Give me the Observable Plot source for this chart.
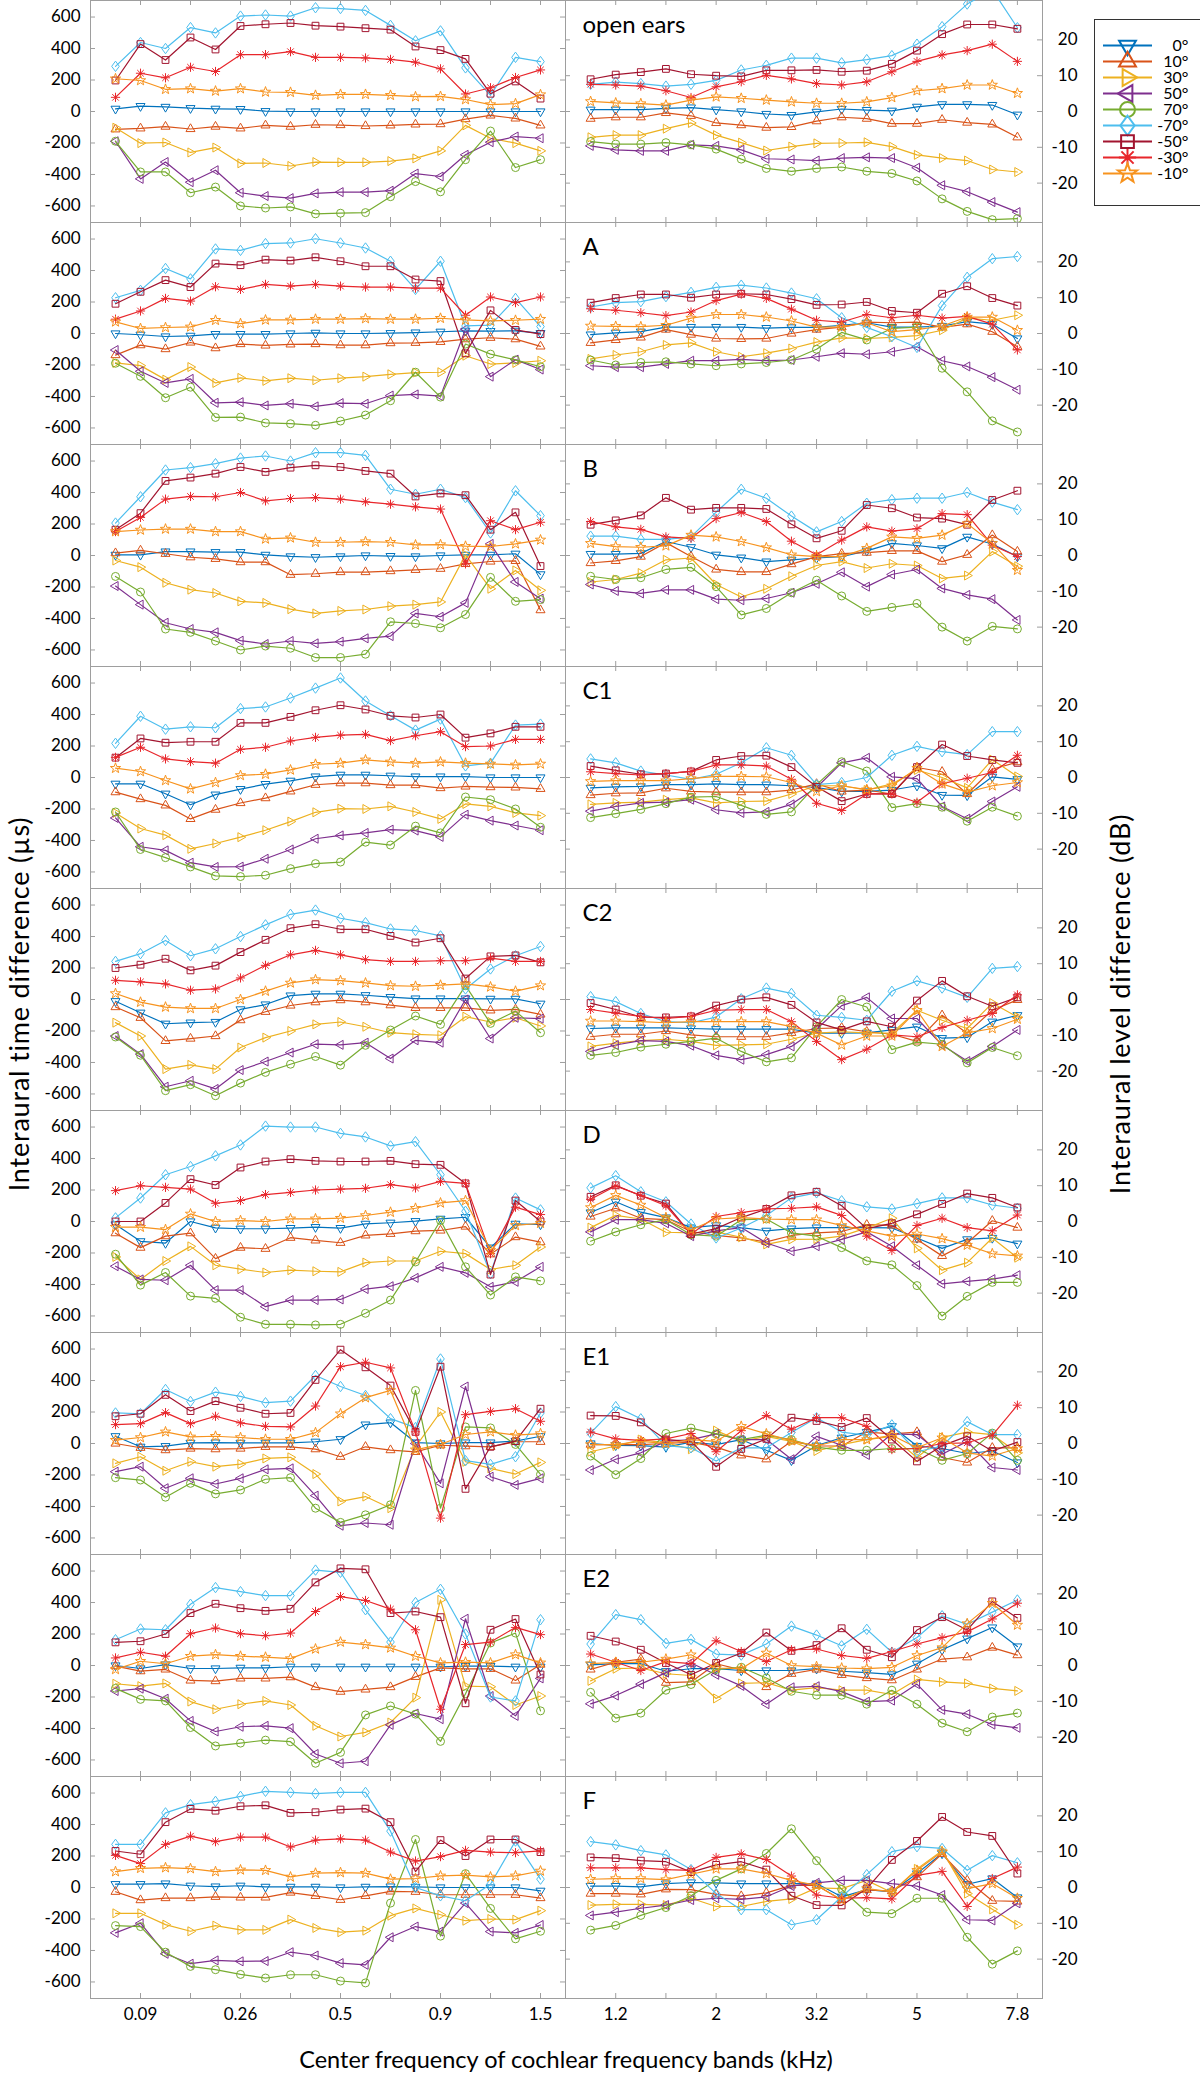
<!DOCTYPE html>
<html><head><meta charset="utf-8">
<script src="https://cdn.jsdelivr.net/npm/d3@7"></script>
<script src="https://cdn.jsdelivr.net/npm/@observablehq/plot@0.6"></script>
<style>
html,body{margin:0;padding:0;background:#fff;}
#fig{position:relative;width:1200px;height:2077px;font-family:Lato,"Open Sans",sans-serif;color:#000;overflow:hidden;}
#fig svg{position:absolute;overflow:visible;}
.ytitle{position:absolute;font-size:27px;letter-spacing:0.8px;line-height:1;white-space:nowrap;transform:translate(-50%,-50%) rotate(-90deg);}
.xtitle{position:absolute;font-size:23.5px;line-height:1;white-space:nowrap;transform:translate(-50%,-50%);}
</style></head><body><div id="fig"></div>
<script>
// ---------- categories ----------
const panels = ["open ears","A","B","C1","C2","D","E1","E2","F"];
const angles = ["0°","10°","30°","50°","70°","-70°","-50°","-30°","-10°"];
const angleColors = ["#0072BD","#D95319","#EDB120","#7E2F8E","#77AC30","#4DBEEE","#A2142F","#E8262B","#F7931E"];
const bands = [1,2,3,4,5,6,7,8,9,10,11,12,13,14,15,16,17,18];
const tickBands = [2,4,6,8,10,12,14,16,18];
const labelBands = [2,6,10,14,18];
const itdTickLabels = ["0.09","0.26","0.5","0.9","1.5"];
const ildTickLabels = ["1.2","2","3.2","5","7.8"];
const itdTicks = [-600,-400,-200,0,200,400,600];
const ildTicks = [-20,-10,0,10,20];

// ---------- ITD (µs), series order = angles ----------
const itdOpen = [
[17,34,29,21,17,15,2,0,0,0,0,0,0,0,0,0,0,0],
[-113,-107,-96,-111,-96,-107,-88,-96,-84,-86,-92,-88,-82,-80,-48,-25,-44,-88],
[-103,-201,-197,-260,-229,-329,-327,-346,-321,-323,-323,-315,-298,-250,-88,-170,-201,-250],
[-189,-428,-321,-449,-373,-516,-537,-550,-520,-512,-512,-503,-394,-413,-275,-195,-159,-170],
[-189,-384,-384,-516,-480,-600,-613,-606,-650,-646,-642,-541,-445,-510,-306,-124,-356,-306],
[287,438,400,533,499,606,613,606,659,654,642,547,449,512,277,103,344,317],
[197,428,327,470,394,543,554,562,545,539,529,520,413,390,334,113,191,82],
[90,243,214,281,254,361,361,380,344,344,340,331,313,271,111,151,216,264],
[208,197,141,145,130,145,124,122,103,109,109,103,94,96,76,44,50,107]];
const itdA = [
[0,-8,-19,-15,-4,-4,-4,0,4,0,0,2,6,11,17,15,17,2],
[-137,-74,-99,-57,-93,-67,-76,-69,-67,-74,-74,-61,-59,-53,-36,-27,-36,-82],
[-187,-204,-293,-213,-314,-282,-301,-284,-297,-284,-274,-259,-248,-246,-141,-194,-187,-173],
[-105,-240,-314,-288,-440,-436,-457,-446,-463,-442,-446,-394,-387,-398,27,-274,-166,-229],
[-189,-272,-408,-341,-533,-531,-568,-573,-583,-556,-518,-427,-246,-404,-67,-131,-168,-211],
[227,274,413,347,537,528,571,575,602,575,543,459,280,459,48,53,223,44],
[189,265,339,295,444,434,469,463,484,459,427,427,343,333,-126,147,23,-4],
[91,143,223,206,297,280,312,301,312,301,295,295,288,288,116,232,196,232],
[74,32,38,42,84,63,86,86,91,91,95,91,91,97,86,80,84,91]];
const itdB = [
[4,4,25,25,21,21,4,-6,-11,-6,0,-4,-6,0,4,4,11,-120],
[15,32,11,-11,-21,-42,-42,-122,-116,-105,-105,-99,-91,-84,-53,-38,-34,-347],
[-32,-74,-173,-217,-238,-291,-301,-341,-368,-352,-343,-322,-312,-295,4,-211,-95,-221],
[-194,-312,-427,-467,-488,-541,-562,-543,-558,-547,-526,-512,-368,-389,-301,74,-168,-274],
[-133,-232,-467,-488,-543,-600,-575,-589,-648,-648,-627,-421,-432,-459,-375,-139,-291,-280],
[206,373,543,558,583,619,632,600,653,653,636,421,389,421,368,143,411,253],
[164,269,474,495,520,562,531,558,573,562,537,520,375,394,383,164,274,-67],
[152,242,358,375,373,400,347,362,368,358,341,326,309,295,-53,221,164,211],
[152,162,168,168,152,152,105,112,84,84,88,84,67,69,59,57,74,99]];
const itdC1 = [
[-40,-40,-103,-173,-109,-74,-42,-21,6,17,17,11,6,6,6,0,0,0],
[-93,-137,-177,-263,-204,-162,-131,-88,-46,-36,-36,-48,-48,-67,-57,-61,-63,-72],
[-225,-324,-366,-453,-419,-379,-335,-280,-221,-198,-200,-183,-219,-263,-168,-183,-225,-242],
[-257,-440,-463,-541,-568,-566,-516,-457,-389,-368,-352,-331,-337,-377,-236,-274,-305,-335],
[-219,-457,-509,-568,-625,-629,-621,-579,-547,-537,-411,-429,-309,-352,-124,-141,-200,-316],
[217,389,307,322,316,438,448,505,568,632,486,392,301,371,74,91,333,339],
[126,248,221,227,227,347,347,385,427,459,432,392,381,400,253,280,322,322],
[128,192,118,101,91,179,192,232,255,269,274,234,265,291,196,200,242,242],
[59,38,-19,-72,-32,13,21,48,84,91,112,99,91,99,91,86,80,86]];
const itdC2 = [
[-11,-84,-154,-147,-143,-63,-32,25,36,36,27,15,6,6,6,4,4,-27],
[-48,-116,-263,-248,-232,-131,-78,-38,-17,-4,-17,-36,-53,-53,-53,-69,-63,-95],
[-147,-232,-442,-415,-442,-305,-242,-200,-158,-143,-173,-211,-221,-227,-109,-143,-116,-168],
[-232,-347,-554,-516,-568,-448,-394,-337,-284,-288,-274,-375,-259,-274,0,-248,-116,-122],
[-238,-354,-579,-541,-611,-531,-463,-411,-362,-417,-291,-194,-105,-158,88,-152,-74,-211],
[242,291,375,278,322,400,474,541,568,516,488,448,438,404,67,194,278,337],
[200,221,259,185,215,301,379,453,478,446,446,404,362,389,133,274,280,236],
[122,112,99,59,67,137,217,284,312,284,253,242,242,246,246,263,242,242],
[38,-17,-48,-57,-57,0,53,105,126,120,105,88,84,91,99,80,53,88]];
const itdD = [
[-19,-126,-137,0,-40,-46,-46,-42,-36,-42,-15,-8,2,17,27,-166,-15,-19],
[-74,-166,-93,-74,-236,-166,-173,-103,-120,-135,-88,-78,-61,-57,-32,-208,-99,-131],
[-225,-368,-251,-158,-278,-303,-324,-309,-316,-320,-261,-251,-251,-189,-204,-305,-278,-162],
[-284,-368,-373,-278,-436,-436,-541,-499,-499,-495,-429,-411,-358,-288,-326,-415,-383,-288],
[-208,-404,-324,-474,-488,-608,-653,-653,-657,-653,-583,-499,-257,6,-288,-467,-352,-377],
[23,149,297,349,417,486,606,600,600,560,537,480,507,297,65,-331,149,74],
[0,0,118,269,232,343,381,396,385,381,381,385,364,360,242,-337,133,0],
[196,227,217,206,116,133,171,185,200,206,211,234,213,255,242,-204,91,44],
[-36,-36,-51,48,0,6,0,17,17,21,38,59,84,118,133,-183,-25,-11]];
const itdE1 = [
[46,-21,-17,4,6,4,4,4,11,27,120,133,6,0,6,6,15,46],
[0,-27,-42,-32,-36,-32,-21,-21,-36,-84,-21,-42,-53,-11,-17,-21,11,11],
[-126,-84,-173,-116,-147,-131,-95,-88,-194,-368,-337,-411,-21,200,-116,-158,-194,-120],
[-179,-147,-284,-221,-257,-221,-164,-158,-331,-522,-505,-516,0,-253,362,-211,-263,-221],
[-217,-232,-341,-253,-320,-295,-227,-217,-411,-501,-453,-389,337,-411,105,99,-6,-196],
[194,189,343,267,326,299,259,269,432,362,305,158,101,537,-109,-133,-84,194],
[173,189,309,206,269,227,189,194,404,596,484,368,74,488,-288,-21,15,221],
[120,126,196,126,173,131,109,105,238,488,516,480,74,-474,183,204,221,141],
[21,38,74,42,46,38,27,27,69,189,291,337,-40,-6,57,74,53,63]];
const itdE2 = [
[0,-19,6,-19,-19,-15,-15,-8,-8,-8,-8,-8,-8,-8,-4,-4,-8,-8],
[-4,-36,-25,-95,-99,-82,-82,-74,-137,-166,-152,-137,-72,-15,-21,-21,-95,6],
[-116,-131,-114,-229,-278,-246,-225,-251,-383,-451,-425,-362,-204,417,-131,-135,-251,-194],
[-162,-147,-211,-352,-419,-389,-383,-398,-562,-621,-608,-377,-305,-341,297,-194,-320,-82],
[-145,-215,-225,-394,-511,-493,-474,-484,-621,-552,-314,-257,-309,-482,-179,143,206,-288],
[164,232,227,389,495,469,444,444,606,592,354,149,400,484,200,-200,-225,291],
[147,154,200,333,392,364,347,360,528,617,611,333,343,307,-240,227,295,-57],
[48,84,59,202,238,202,189,206,343,438,413,358,227,-278,133,149,242,196],
[-25,27,11,59,69,59,53,44,105,149,133,112,59,17,21,17,69,17]];
const itdF = [
[21,21,25,11,6,11,4,4,4,0,4,6,4,0,0,0,0,-21],
[-27,-80,-67,-67,-59,-63,-63,-32,-53,-78,-53,-25,-27,-46,-46,-46,-46,-67],
[-164,-164,-236,-278,-242,-269,-269,-204,-257,-284,-274,-179,-133,-173,-211,-200,-204,-147],
[-288,-227,-421,-484,-463,-469,-467,-411,-432,-480,-491,-316,-248,-280,-99,-280,-288,-238],
[-242,-248,-411,-501,-522,-552,-575,-554,-554,-594,-606,-99,305,-309,88,-133,-326,-278],
[274,274,474,526,547,579,611,604,596,604,604,358,0,-53,-84,21,295,53],
[232,211,415,499,488,516,522,474,478,495,501,415,101,301,200,305,305,225],
[204,152,274,326,291,320,320,257,301,309,301,225,168,196,236,225,221,232],
[101,122,126,120,101,112,109,67,91,95,91,53,57,74,78,67,74,105]];

// ---------- ILD (dB), series order = angles ----------
const ildOpen = [
[0.5,0.5,0.5,0.9,1.1,0.5,0,-0.7,-1.0,-0.1,0.7,0.4,0.2,1.3,2.0,2.0,1.8,-0.9],
[-2.0,-1.6,-1.6,-0.4,-1.2,-3.2,-3.8,-4.5,-4.3,-2.7,-1.6,-2.0,-3.4,-3.4,-2.3,-3.1,-3.6,-7.2],
[-7.2,-6.6,-6.6,-4.8,-3.2,-6.6,-8.7,-10.9,-9.8,-8.9,-8.8,-8.6,-9.8,-12.1,-13.0,-13.7,-16.2,-16.9],
[-9.6,-10.7,-11.0,-11.0,-9.3,-9.6,-10.7,-13.2,-13.4,-13.7,-13.0,-12.8,-13.0,-15.7,-20.6,-22.4,-25.3,-28.1],
[-8.4,-9.1,-9.1,-8.7,-9.3,-10.5,-13.3,-15.9,-16.7,-15.9,-15.5,-16.7,-17.3,-19.4,-24.4,-27.9,-30.2,-29.9],
[7.6,8.2,7.8,7.1,7.6,8.7,11.6,12.9,14.9,14.9,13.6,14.5,15.6,18.8,23.7,30.0,34,23.4],
[9.0,10.3,11.0,11.9,10.4,10.0,9.8,11.5,11.5,11.6,11.1,11.4,13.3,17.0,21.6,24.3,24.3,23.1],
[7.6,7.4,7.1,5.8,3.9,6.9,8.3,10.1,9.1,7.8,7.4,8.3,11.1,14.0,15.8,17.0,18.8,14.0],
[2.8,2.4,2.2,1.8,3.2,4.1,3.7,3.2,2.7,2.3,2.3,2.7,3.9,5.8,6.4,7.4,7.4,5.1]];
const ildA = [
[-0.3,0.2,0.5,1.8,1.8,1.8,1.8,1.5,1.7,1.7,2.3,3.0,1.8,1.8,2.1,3.3,2.6,-1.4],
[-2.6,-1.8,-1.1,1.1,-0.3,-1.4,-1.5,-1.4,0,1.1,1.8,3.2,3.0,3.2,1.7,2.6,0.5,-3.7],
[-7.1,-6.0,-5.1,-3.2,-2.6,-5.1,-6.5,-5.5,-4.2,-2.4,-1.2,-1.4,-1.1,-0.6,0.9,4.3,3.7,5.1],
[-9.0,-9.4,-9.4,-8.5,-7.6,-7.6,-7.2,-7.6,-7.4,-6.5,-5.5,-5.8,-5.1,-3.7,-7.6,-9.2,-12.2,-15.7],
[-7.4,-8.8,-8.1,-7.9,-8.5,-9.0,-8.5,-8.1,-7.4,-4.4,0.3,-1.8,1.4,1.8,-9.7,-16.3,-24.4,-27.5],
[7.4,8.6,8.9,10.3,11.5,12.9,13.5,12.7,11.3,9.7,4.4,1.7,-0.9,-3.9,7.8,15.7,20.9,21.5],
[8.6,9.9,10.9,10.9,10.0,10.9,11.1,10.9,9.6,8.0,8.1,8.8,6.3,5.8,11.1,13.2,9.9,7.8],
[6.9,6.5,5.8,5.0,6.0,9.2,11.0,9.8,6.8,3.7,3.2,5.3,4.4,5.1,4.3,4.8,2.6,-4.6],
[2.1,2.0,1.9,2.3,4.3,5.3,5.3,4.6,3.5,1.8,1.8,3.0,0.5,1.1,2.1,4.6,4.6,0.9]];
const ildB = [
[0.4,0.4,0.6,3.9,2.3,0.2,-0.6,-1.7,-1.2,-0.7,-0.3,1.3,3.4,2.8,2.0,5.2,3.2,-0.3],
[-2.1,-1.5,-0.3,3.6,-0.3,-3.9,-4.6,-4.6,-2.4,-0.3,0.5,0.8,1.3,1.3,-1.7,0.2,5.7,1.1],
[-7.4,-6.7,-4.9,-1.2,-0.7,-8.1,-11.6,-9.3,-5.8,-2.8,-1.7,-3.5,-2.3,-2.8,-6.4,-5.6,1.1,-3.0],
[-8.1,-9.9,-10.6,-9.6,-9.6,-12.2,-12.5,-12.0,-10.4,-7.9,-4.7,-8.7,-5.3,-3.9,-9.2,-11.0,-12.2,-18.0],
[-5.8,-6.7,-6.2,-3.9,-3.3,-8.7,-16.6,-14.8,-10.4,-6.9,-11.3,-15.6,-14.5,-13.4,-20.0,-23.9,-19.8,-20.5],
[5.4,5.4,4.5,4.5,5.2,12.1,18.5,16.0,11.0,6.6,9.5,14.6,15.6,16.0,16.0,17.6,14.9,12.8],
[8.6,9.8,11.2,16.1,12.8,13.3,13.3,13.0,8.7,4.8,6.9,14.1,13.2,10.6,10.3,8.6,15.5,18.1],
[9.5,8.0,7.3,5.2,4.8,10.3,12.0,9.5,4.0,0.2,4.3,8.0,6.8,7.5,11.7,11.4,2.9,-0.3],
[3.4,2.5,2.3,2.7,5.7,5.2,3.9,2.2,0.2,-0.3,-0.3,2.0,5.2,4.8,5.7,8.9,3.4,-4.1]];
const ildC1 = [
[-2.9,-2.6,-2.5,-2.0,-2.0,-1.8,-2.0,-2.0,-2.3,-2.8,-3.9,-3.9,-3.5,-2.3,-4.9,-5.0,0.2,-0.5],
[-4.9,-4.4,-4.3,-3.0,-3.9,-4.1,-4.1,-4.1,-3.5,-1.8,-3.9,-3.5,-4.6,2.8,1.6,-4.6,2.3,4.3],
[-7.5,-7.1,-6.9,-6.2,-5.7,-7.1,-6.7,-6.6,-4.6,-2.3,-2.3,-3.5,-1.8,2.1,0,-2.9,5.0,0.3],
[-9.4,-8.1,-7.1,-6.9,-6.2,-9.0,-9.9,-9.6,-7.5,-2.8,4.1,5.5,0.2,-0.3,-8.1,-11.5,-6.7,-2.6],
[-11.2,-10.1,-8.9,-7.3,-5.5,-5.3,-7.8,-10.3,-9.6,-2.0,4.4,1.8,-8.4,-7.3,-8.3,-12.2,-8.3,-10.8],
[5.2,4.1,1.8,0.7,-0.5,0.9,4.1,8.3,6.2,-2.0,-1.4,0,6.2,8.7,7.2,6.4,12.8,12.8],
[3.2,2.0,0.9,1.1,1.7,4.9,6.0,6.1,2.9,-2.6,-6.6,-4.6,-4.6,2.9,9.2,6.0,4.9,4.1],
[1.6,1.1,0.7,1.1,1.7,3.5,3.5,3.2,-0.5,-7.2,-9.2,-4.6,-4.6,-6.9,-1.7,-0.2,1.4,6.2],
[-1.1,-0.9,-0.9,-0.9,-0.3,0.3,0.3,0.2,-1.4,-3.9,-2.3,-3.4,-2.3,2.6,-1.8,-4.1,-2.3,-1.4]];
const ildC2 = [
[-8.1,-7.9,-7.9,-7.9,-8.1,-8.3,-8.3,-8.3,-8.3,-9.4,-9.4,-9.3,-8.5,-7.6,-10.8,-10.6,-6.2,-4.4],
[-10.4,-9.7,-9.7,-8.8,-9.9,-10.4,-10.4,-10.4,-9.3,-8.1,-7.9,-9.0,-9.7,-11.7,-4.4,-9.4,-3.0,-0.1],
[-13.1,-12.2,-11.5,-11.1,-11.7,-12.8,-12.7,-12.5,-11.1,-9.4,-9.0,-9.3,-9.4,-3.0,-5.8,-8.1,-1.0,-4.9],
[-14.5,-12.7,-11.5,-11.7,-12.9,-15.6,-16.8,-15.4,-13.1,-8.3,-1.7,0.6,-5.3,-5.3,-12.7,-17.2,-13.1,-8.5],
[-15.6,-14.8,-13.3,-12.5,-11.7,-10.8,-14.5,-17.4,-16.3,-7.6,0,-2.1,-14.0,-11.9,-12.5,-17.7,-13.4,-15.7],
[0.8,-0.6,-3.9,-6.2,-6.5,-4.9,0.2,3.2,1.7,-4.4,-5.0,-5.8,2.3,5.2,3.2,0.6,8.7,9.2],
[-1.0,-2.8,-4.9,-5.0,-4.7,-1.7,0,0.6,-1.5,-6.4,-8.5,-6.1,-7.6,-0.3,5.2,0.9,-1.9,0.6],
[-2.8,-3.8,-4.7,-5.3,-4.7,-3.0,-2.8,-2.8,-6.2,-11.7,-16.8,-13.9,-9.9,-10.4,-7.8,-5.8,-3.9,1.3],
[-6.0,-6.0,-6.2,-6.5,-6.2,-6.2,-6.2,-6.2,-7.6,-9.4,-12.7,-10.2,-10.2,-3.0,-13.1,-9.3,-8.1,-5.5]];
const ildD = [
[2.5,5.5,2.6,1.1,-1.7,-1.1,-1.7,-2.6,-2.0,-1.7,-1.7,-1.7,-1.8,-4.6,-7.5,-5.0,-4.6,-6.2],
[1.4,3.7,0.9,0.5,-2.8,-3.9,-4.6,-5.7,-3.9,-3.2,-2.8,-0.9,-1.1,-5.0,-9.6,-6.0,0.2,-1.7],
[-1.7,1.7,0.7,-3.0,-3.2,-2.9,-4.4,-6.4,-5.0,-4.9,-4.1,-1.8,0.9,-7.5,-13.6,-11.5,-4.6,-10.1],
[-2.9,0.5,0.5,-0.5,-4.1,-2.6,-1.7,-6.0,-8.3,-6.9,-5.0,-2.9,-6.9,-12.2,-17.4,-16.7,-16.1,-15.0],
[-5.5,-2.9,-0.9,0.5,-3.7,-4.1,0.5,0.7,-3.2,-4.1,-7.3,-11.0,-12.1,-17.9,-26.4,-20.9,-17.0,-17.0],
[9.4,12.8,8.3,5.5,-0.7,-4.6,-1.8,1.7,6.6,8.0,5.8,4.1,3.5,5.0,6.6,6.6,4.6,3.7],
[6.9,10.1,7.2,5.0,-3.5,-2.0,1.1,3.5,7.3,8.3,4.4,-2.0,-0.5,2.0,4.9,7.8,6.6,3.9],
[6.2,9.9,7.3,4.4,-3.5,1.4,2.5,3.5,3.7,4.1,1.7,-4.1,-8.1,-1.1,0.9,-1.7,-2.6,1.8],
[3.9,7.3,4.6,1.1,-2.3,0.7,1.1,0.7,0.5,0.5,-1.1,-2.6,-4.1,-3.5,-4.8,-6.6,-9.0,-9.6]];
const ildE1 = [
[0,-0.5,-0.6,-1.0,0.4,-0.3,1.1,-1.9,-4.7,-0.6,1.6,3.2,4.8,-0.7,-1.4,-2.8,-2.1,-5.3],
[-0.3,-0.3,-0.3,0,0.4,-1.0,-3.3,-4.4,0.6,-0.7,-0.7,3.2,2.7,3.2,-3.9,-5.3,-1.2,-1.2],
[-2.3,-0.7,1.1,0.2,-1.6,3.6,0.6,2.0,0.6,-2.1,-0.3,1.1,2.0,-3.9,1.7,3.2,2.5,-2.6],
[-7.4,-4.4,-2.6,0.6,1.1,2.7,1.1,1.1,-4.4,2.0,-0.5,-3.2,2.7,2.5,-3.0,0.6,-6.7,-7.4],
[-3.5,-8.7,-4.2,2.8,4.3,2.7,1.1,2.3,1.1,-1.0,-1.9,-1.9,-1.4,-1.4,-4.7,-2.8,2.9,-4.7],
[2.9,10.3,6.9,-0.6,-1.2,-4.9,-1.2,-1.2,3.1,7.2,3.2,2.3,5.2,-2.3,-0.7,6.1,2.5,2.5],
[7.8,7.7,5.9,1.1,0.6,-6.5,-1.5,1.3,7.2,6.3,4.6,7.1,1.1,-5.0,-0.6,2.0,-2.1,0.4],
[3.2,1.3,0.9,1.3,2.8,-2.3,3.6,7.8,4.0,7.2,7.2,4.8,-1.7,-1.4,0,0.2,2.3,10.7],
[-0.3,-0.3,0.6,0,1.1,0.6,4.8,2.7,0.8,-0.7,1.1,1.1,2.3,-1.2,1.6,-2.6,-3.5,-1.4]];
const ildE2 = [
[0.2,0.5,0.5,-1.6,-0.9,-0.9,-1.4,-1.4,-1.4,-0.9,-1.6,-2.0,-2.5,0.5,4.4,7.5,10.6,5.3],
[-1.1,0.9,1.8,-4.8,-4.6,0.5,-1.2,-6.0,-2.3,-1.1,-2.6,-3.5,-4.1,-1.1,1.8,2.3,5.0,2.9],
[-4.3,-0.9,-0.7,-2.3,-2.8,-9.2,-5.0,-4.8,-6.9,-6.2,-6.9,-6.9,-8.1,-3.9,-4.6,-5.0,-6.4,-7.1],
[-10.7,-8.4,-5.2,-2.0,0.7,-2.6,-5.7,-10.8,-6.1,-5.8,-7.3,-10.1,-9.8,-5.2,-12.4,-13.6,-16.5,-17.4],
[-7.5,-14.7,-13.3,-6.9,-5.3,-1.1,-0.5,-3.5,-7.2,-8.3,-8.3,-10.8,-6.9,-10.8,-16.1,-18.5,-14.4,-13.3],
[6.0,14.2,12.8,6.2,7.3,3.2,2.9,6.0,11.0,8.5,5.5,10.1,3.7,7.8,13.9,11.5,14.9,18.3],
[8.3,6.7,4.4,0.7,-2.6,0.7,3.5,9.2,4.1,5.7,10.4,4.4,2.3,9.9,13.5,9.9,17.9,13.3],
[3.2,0.9,-1.4,1.1,0.5,6.9,3.9,1.1,4.4,4.6,2.8,2.0,3.9,6.0,7.8,9.4,13.0,17.4],
[0.5,0.9,0.9,1.8,3.0,-0.7,-0.9,3.5,0,-0.3,-0.7,-0.9,-0.5,2.8,5.0,11.7,17.4,11.3]];
const ildF = [
[0.4,0.4,0.2,1.1,1.4,1.3,1.1,1.1,1.1,1.1,-2.6,-0.6,-1.2,3.9,9.5,0.9,2.5,-2.8],
[-1.7,-1.7,-1.9,-0.5,-0.6,-1.9,-2.4,-1.5,0.6,0.6,-3.5,-0.7,-1.0,2.9,9.4,2.0,-3.7,-3.9],
[-4.9,-4.7,-4.7,-4.9,-3.0,-5.3,-5.3,-3.9,-3.2,-0.1,-0.3,2.0,-1.4,5.2,10.3,-1.7,-6.1,-10.4],
[-7.8,-6.9,-5.8,-4.9,-3.5,-3.0,-3.3,-2.6,0.4,1.3,2.0,2.0,1.1,0.4,-2.1,-9.0,-9.2,-4.4],
[-11.9,-10.6,-7.8,-5.6,-2.3,2.0,5.2,9.5,16.4,7.5,-0.5,-6.9,-7.3,-3.0,-3.0,-13.9,-21.4,-17.7],
[12.8,11.9,10.3,9.1,5.0,-1.7,-6.2,-6.2,-10.4,-9.0,-2.6,3.6,10.0,11.4,10.9,4.8,8.9,6.9],
[8.4,8.2,7.5,7.2,4.3,6.3,7.2,5.0,-2.3,-4.9,-5.0,-0.3,7.7,13.0,19.7,15.5,14.4,3.9],
[5.5,5.5,5.5,5.0,4.8,8.4,9.4,7.8,3.2,-2.1,-3.0,-2.8,-3.2,3.4,4.5,-5.3,2.5,5.7],
[2.3,2.5,2.5,2.2,3.7,5.2,5.2,3.9,2.0,0.6,-3.5,-0.3,-1.2,4.8,10.0,-0.3,1.1,-3.0]];

const itdByPanel = [itdOpen,itdA,itdB,itdC1,itdC2,itdD,itdE1,itdE2,itdF];
const ildByPanel = [ildOpen,ildA,ildB,ildC1,ildC2,ildD,ildE1,ildE2,ildF];

// ---------- marker symbols (hollow, MATLAB-like) ----------
function polySym(pts) {
  return {draw(ctx, size) {
    const r = Math.sqrt(size / Math.PI);
    ctx.moveTo(pts[0][0] * r, pts[0][1] * r);
    for (let k = 1; k < pts.length; ++k) ctx.lineTo(pts[k][0] * r, pts[k][1] * r);
    ctx.closePath();
  }};
}
function triSym(a0) {
  const pts = [0, 1, 2].map(k => { const a = a0 + k * 2 * Math.PI / 3; return [1.3 * Math.cos(a), 1.3 * Math.sin(a)]; });
  return polySym(pts);
}
const circleSym = {draw(ctx, size) { const r = Math.sqrt(size / Math.PI); ctx.moveTo(r, 0); ctx.arc(0, 0, r, 0, 2 * Math.PI); ctx.closePath(); }};
const squareSym = polySym([[-0.85,-0.85],[0.85,-0.85],[0.85,0.85],[-0.85,0.85]]);
const diamondSym = polySym([[0,-1.3],[0.95,0],[0,1.3],[-0.95,0]]);
const asteriskSym = {draw(ctx, size) {
  const r = Math.sqrt(size / Math.PI) * 1.15;
  for (let k = 0; k < 4; ++k) { const a = k * Math.PI / 4; ctx.moveTo(-r * Math.cos(a), -r * Math.sin(a)); ctx.lineTo(r * Math.cos(a), r * Math.sin(a)); }
}};
const starPts = d3.range(10).map(k => { const a = -Math.PI / 2 + k * Math.PI / 5; const rr = k % 2 ? 0.55 : 1.35; return [rr * Math.cos(a), rr * Math.sin(a)]; });
const starSym = polySym(starPts);
const angleSymbols = [triSym(Math.PI / 2), triSym(-Math.PI / 2), triSym(0), triSym(Math.PI), circleSym, diamondSym, squareSym, asteriskSym, starSym];

// ---------- tidy rows ----------
function tidy(byPanel) {
  const rows = [];
  byPanel.forEach((series, p) => series.forEach((vals, s) => vals.forEach((v, i) =>
    rows.push({panel: panels[p], angle: angles[s], band: bands[i], value: v}))));
  return rows;
}
const itdRows = tidy(itdByPanel);
const ildRows = tidy(ildByPanel);

const PANEL_H = 222;
const FRAME_GRAY = "#9e9e9e";

function seriesMarks(rows) {
  const out = [];
  angles.forEach((a, s) => {
    const sub = rows.filter(d => d.angle === a);
    out.push(Plot.line(sub, {x: "band", y: "value", fy: "panel", stroke: angleColors[s], strokeWidth: 1.2, clip: true}));
    out.push(Plot.dot(sub, {x: "band", y: "value", fy: "panel", symbol: angleSymbols[s], stroke: angleColors[s], fill: "none", r: 4, strokeWidth: 1, clip: true}));
  });
  return out;
}

function column({width, marginLeft, marginRight, yDomain, yTicks, rows, tickLabels, yAnchor, panelLabels}) {
  const fw = width - marginLeft - marginRight;
  return Plot.plot({
    width, height: PANEL_H * panels.length + 35,
    marginLeft, marginRight, marginTop: 0, marginBottom: 35,
    style: {fontFamily: "Lato, 'Open Sans', sans-serif", fontSize: "17px", color: "#000", background: "none", overflow: "visible"},
    x: {domain: [0, 19]},
    y: {domain: yDomain},
    fy: {domain: panels, padding: 0, axis: null},
    marks: [
      Plot.tickY(yTicks, {y: d => d, insetRight: fw - 5, stroke: FRAME_GRAY}),
      Plot.tickY(yTicks, {y: d => d, insetLeft: fw - 5, stroke: FRAME_GRAY}),
      Plot.tickX(tickBands, {x: d => d, insetBottom: PANEL_H - 5, stroke: FRAME_GRAY}),
      Plot.tickX(tickBands, {x: d => d, insetTop: PANEL_H - 5, stroke: FRAME_GRAY}),
      Plot.frame({stroke: FRAME_GRAY}),
      Plot.axisY(yTicks, yAnchor === "left"
        ? {anchor: "left", tickSize: 0, tickPadding: 10, tickFormat: d => String(d), label: null}
        : {anchor: "right", tickSize: 0, tickPadding: 35, textAnchor: "end", tickFormat: d => String(d), label: null}),
      Plot.axisX(labelBands, {anchor: "bottom", tickSize: 0, tickPadding: 9, tickFormat: d => tickLabels[labelBands.indexOf(d)], label: null}),
      ...(panelLabels ? [Plot.text(panels, {fy: d => d, text: d => d, frameAnchor: "top-left", textAnchor: "start", lineAnchor: "top", dx: 17, dy: 15, fontSize: 24})] : []),
      ...seriesMarks(rows)
    ]
  });
}

const fig = document.getElementById("fig");

const left = column({width: 565, marginLeft: 90, marginRight: 0, yDomain: [-705, 705], yTicks: itdTicks, rows: itdRows, tickLabels: itdTickLabels, yAnchor: "left", panelLabels: false});
left.style.left = "0px"; left.style.top = "0px";
fig.appendChild(left);

const right = column({width: 525, marginLeft: 0, marginRight: 48, yDomain: [-31, 31], yTicks: ildTicks, rows: ildRows, tickLabels: ildTickLabels, yAnchor: "right", panelLabels: true});
right.style.left = "565px"; right.style.top = "0px";
fig.appendChild(right);

// legend
const legend = Plot.plot({
  width: 106, height: 186, marginTop: 0, marginRight: 0, marginBottom: 0, marginLeft: 0,
  style: {fontFamily: "Lato, 'Open Sans', sans-serif", fontSize: "16px", color: "#000", background: "#fff", overflow: "visible"},
  x: {domain: [0, 106], range: [0, 106], axis: null},
  y: {type: "point", domain: angles, range: [14, 166], axis: null},
  marks: [
    Plot.frame({stroke: "#333", strokeWidth: 1}),
    ...angles.map((a, s) => Plot.ruleY([a], {y: d => d, x1: 9, x2: 58, stroke: angleColors[s], strokeWidth: 2.2})),
    ...angles.map((a, s) => Plot.dot([a], {x: 33, y: d => d, symbol: angleSymbols[s], stroke: angleColors[s], fill: "none", r: 7.5, strokeWidth: 2})),
    Plot.text(angles, {x: 94, y: d => d, text: d => d, textAnchor: "end"})
  ]
});
legend.style.left = "1094px"; legend.style.top = "19px";
fig.appendChild(legend);

// titles
function addText(cls, text, x, y) {
  const el = document.createElement("div");
  el.className = cls; el.textContent = text;
  el.style.left = x + "px"; el.style.top = y + "px";
  fig.appendChild(el);
}
addText("ytitle", "Interaural time difference (µs)", 18, 1004);
addText("ytitle", "Interaural level difference (dB)", 1119, 1004);
addText("xtitle", "Center frequency of cochlear frequency bands (kHz)", 566, 2060);
</script></body></html>
